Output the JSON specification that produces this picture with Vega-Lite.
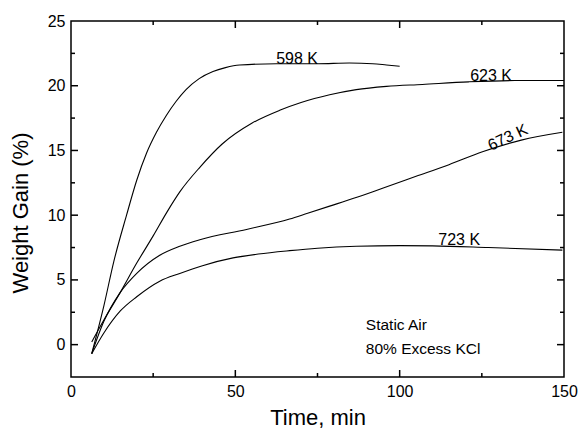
{
  "$schema": "https://vega.github.io/schema/vega-lite/v6.json",
  "width": 493,
  "height": 356,
  "autosize": {"type": "none"},
  "padding": {"left": 71, "top": 21, "right": 16, "bottom": 53},
  "config": {
    "view": {"stroke": "#000000", "strokeWidth": 1.5, "strokeOpacity": 1},
    "font": "Liberation Sans",
    "axis": {
      "grid": false,
      "domain": false,
      "ticks": false,
      "labelColor": "black",
      "titleColor": "black",
      "labelFont": "Liberation Sans",
      "titleFont": "Liberation Sans",
      "labelFontSize": 16,
      "titleFontSize": 22,
      "titleFontWeight": "normal",
      "labelFlush": false,
      "labelOverlap": false,
      "labelPadding": 6
    }
  },
  "datasets": {
    "curves": [
      {"series": "598 K", "t": 6.3, "v": -0.7},
      {"series": "598 K", "t": 10, "v": 3.0},
      {"series": "598 K", "t": 13, "v": 6.4},
      {"series": "598 K", "t": 16.9, "v": 10.0},
      {"series": "598 K", "t": 20, "v": 12.7},
      {"series": "598 K", "t": 23, "v": 14.8},
      {"series": "598 K", "t": 26, "v": 16.4},
      {"series": "598 K", "t": 29, "v": 17.7},
      {"series": "598 K", "t": 32, "v": 18.8},
      {"series": "598 K", "t": 35, "v": 19.7},
      {"series": "598 K", "t": 39, "v": 20.55},
      {"series": "598 K", "t": 43.2, "v": 21.1},
      {"series": "598 K", "t": 47, "v": 21.4},
      {"series": "598 K", "t": 51.3, "v": 21.6},
      {"series": "598 K", "t": 62.5, "v": 21.7},
      {"series": "598 K", "t": 75, "v": 21.7},
      {"series": "598 K", "t": 84.7, "v": 21.75},
      {"series": "598 K", "t": 91.8, "v": 21.7},
      {"series": "598 K", "t": 96, "v": 21.6},
      {"series": "598 K", "t": 100, "v": 21.5},
      {"series": "623 K", "t": 6.3, "v": 0.2},
      {"series": "623 K", "t": 10, "v": 1.9},
      {"series": "623 K", "t": 14.9, "v": 4.0},
      {"series": "623 K", "t": 20, "v": 6.3},
      {"series": "623 K", "t": 25, "v": 8.4},
      {"series": "623 K", "t": 29.1, "v": 10.2},
      {"series": "623 K", "t": 33.1, "v": 11.8},
      {"series": "623 K", "t": 39.2, "v": 13.7},
      {"series": "623 K", "t": 46, "v": 15.5},
      {"series": "623 K", "t": 55, "v": 17.1},
      {"series": "623 K", "t": 63.5, "v": 18.1},
      {"series": "623 K", "t": 70, "v": 18.7},
      {"series": "623 K", "t": 78.7, "v": 19.3},
      {"series": "623 K", "t": 86.8, "v": 19.7},
      {"series": "623 K", "t": 96, "v": 19.95},
      {"series": "623 K", "t": 106.9, "v": 20.1},
      {"series": "623 K", "t": 121, "v": 20.3},
      {"series": "623 K", "t": 135, "v": 20.4},
      {"series": "623 K", "t": 150, "v": 20.4},
      {"series": "673 K", "t": 6.3, "v": -0.7},
      {"series": "673 K", "t": 10, "v": 1.8},
      {"series": "673 K", "t": 14.9, "v": 4.0},
      {"series": "673 K", "t": 20, "v": 5.5},
      {"series": "673 K", "t": 27, "v": 6.9},
      {"series": "673 K", "t": 33.1, "v": 7.6},
      {"series": "673 K", "t": 39.2, "v": 8.1},
      {"series": "673 K", "t": 53.4, "v": 8.9},
      {"series": "673 K", "t": 66.5, "v": 9.7},
      {"series": "673 K", "t": 72, "v": 10.15},
      {"series": "673 K", "t": 78.7, "v": 10.7},
      {"series": "673 K", "t": 86, "v": 11.3},
      {"series": "673 K", "t": 95, "v": 12.1},
      {"series": "673 K", "t": 105, "v": 13.0},
      {"series": "673 K", "t": 115, "v": 13.9},
      {"series": "673 K", "t": 125.2, "v": 14.9},
      {"series": "673 K", "t": 137, "v": 15.8},
      {"series": "673 K", "t": 149.5, "v": 16.4},
      {"series": "723 K", "t": 6.3, "v": -0.7},
      {"series": "723 K", "t": 10, "v": 0.9},
      {"series": "723 K", "t": 15, "v": 2.6},
      {"series": "723 K", "t": 20, "v": 3.7},
      {"series": "723 K", "t": 27, "v": 4.9},
      {"series": "723 K", "t": 33.1, "v": 5.5},
      {"series": "723 K", "t": 40, "v": 6.1},
      {"series": "723 K", "t": 49.3, "v": 6.7},
      {"series": "723 K", "t": 57, "v": 7.0},
      {"series": "723 K", "t": 66.5, "v": 7.26},
      {"series": "723 K", "t": 75, "v": 7.45},
      {"series": "723 K", "t": 86.8, "v": 7.6},
      {"series": "723 K", "t": 100, "v": 7.65},
      {"series": "723 K", "t": 110, "v": 7.63},
      {"series": "723 K", "t": 127, "v": 7.5},
      {"series": "723 K", "t": 149.5, "v": 7.3}
    ],
    "xmajor": [{"t": 50}, {"t": 100}],
    "xminor": [{"t": 25}, {"t": 75}, {"t": 125}],
    "ymajor": [{"v": 0}, {"v": 5}, {"v": 10}, {"v": 15}, {"v": 20}],
    "yminor": [{"v": 2.5}, {"v": 7.5}, {"v": 12.5}, {"v": 17.5}, {"v": 22.5}]
  },
  "layer": [
    {
      "data": {"name": "curves"},
      "mark": {"type": "line", "interpolate": "monotone", "color": "black", "strokeWidth": 1.1},
      "encoding": {
        "x": {
          "field": "t", "type": "quantitative",
          "scale": {"domain": [0, 150], "nice": false, "zero": false},
          "axis": {
            "orient": "bottom",
            "values": [0, 50, 100, 150],
            "title": "Time, min",
            "titleX": 246.5,
            "titleY": 47,
            "titleBaseline": "alphabetic"
          }
        },
        "y": {
          "field": "v", "type": "quantitative",
          "scale": {"domain": [-2.5, 25], "nice": false, "zero": false},
          "axis": {
            "orient": "left",
            "values": [0, 5, 10, 15, 20, 25],
            "title": "Weight Gain (%)",
            "titleX": -44,
            "titleY": 191.5,
            "titleBaseline": "alphabetic"
          }
        },
        "detail": {"field": "series", "type": "nominal"}
      }
    },
    {
      "data": {"name": "xmajor"},
      "mark": {"type": "rule", "color": "#000000", "strokeWidth": 1.5},
      "encoding": {
        "x": {"field": "t", "type": "quantitative"},
        "y": {"datum": -2.5},
        "y2": {"datum": -1.96}
      }
    },
    {
      "data": {"name": "xminor"},
      "mark": {"type": "rule", "color": "#000000", "strokeWidth": 1.5},
      "encoding": {
        "x": {"field": "t", "type": "quantitative"},
        "y": {"datum": -2.5},
        "y2": {"datum": -2.19}
      }
    },
    {
      "data": {"name": "xmajor"},
      "mark": {"type": "rule", "color": "#000000", "strokeWidth": 1.5},
      "encoding": {
        "x": {"field": "t", "type": "quantitative"},
        "y": {"datum": 25},
        "y2": {"datum": 24.46}
      }
    },
    {
      "data": {"name": "xminor"},
      "mark": {"type": "rule", "color": "#000000", "strokeWidth": 1.5},
      "encoding": {
        "x": {"field": "t", "type": "quantitative"},
        "y": {"datum": 25},
        "y2": {"datum": 24.69}
      }
    },
    {
      "data": {"name": "ymajor"},
      "mark": {"type": "rule", "color": "#000000", "strokeWidth": 1.5},
      "encoding": {
        "y": {"field": "v", "type": "quantitative"},
        "x": {"datum": 0},
        "x2": {"datum": 2.13}
      }
    },
    {
      "data": {"name": "yminor"},
      "mark": {"type": "rule", "color": "#000000", "strokeWidth": 1.5},
      "encoding": {
        "y": {"field": "v", "type": "quantitative"},
        "x": {"datum": 0},
        "x2": {"datum": 1.22}
      }
    },
    {
      "data": {"name": "ymajor"},
      "mark": {"type": "rule", "color": "#000000", "strokeWidth": 1.5},
      "encoding": {
        "y": {"field": "v", "type": "quantitative"},
        "x": {"datum": 150},
        "x2": {"datum": 147.87}
      }
    },
    {
      "data": {"name": "yminor"},
      "mark": {"type": "rule", "color": "#000000", "strokeWidth": 1.5},
      "encoding": {
        "y": {"field": "v", "type": "quantitative"},
        "x": {"datum": 150},
        "x2": {"datum": 148.78}
      }
    },
    {
      "data": {"values": [
        {"label": "598 K", "t": 68.8, "v": 22.1},
        {"label": "623 K", "t": 127.8, "v": 20.75},
        {"label": "723 K", "t": 118.1, "v": 8.08}
      ]},
      "mark": {"type": "text", "fontSize": 16, "align": "center", "baseline": "middle", "color": "black"},
      "encoding": {
        "x": {"field": "t", "type": "quantitative"},
        "y": {"field": "v", "type": "quantitative"},
        "text": {"field": "label", "type": "nominal"}
      }
    },
    {
      "data": {"values": [
        {"label": "673 K", "t": 132.9, "v": 16.0}
      ]},
      "mark": {"type": "text", "fontSize": 16, "align": "center", "baseline": "middle", "angle": 335, "color": "black"},
      "encoding": {
        "x": {"field": "t", "type": "quantitative"},
        "y": {"field": "v", "type": "quantitative"},
        "text": {"field": "label", "type": "nominal"}
      }
    },
    {
      "data": {"values": [
        {"label": "Static Air", "t": 89.7, "v": 1.52},
        {"label": "80% Excess KCl", "t": 89.7, "v": -0.34}
      ]},
      "mark": {"type": "text", "fontSize": 15.5, "align": "left", "baseline": "middle", "color": "black"},
      "encoding": {
        "x": {"field": "t", "type": "quantitative"},
        "y": {"field": "v", "type": "quantitative"},
        "text": {"field": "label", "type": "nominal"}
      }
    }
  ]
}
